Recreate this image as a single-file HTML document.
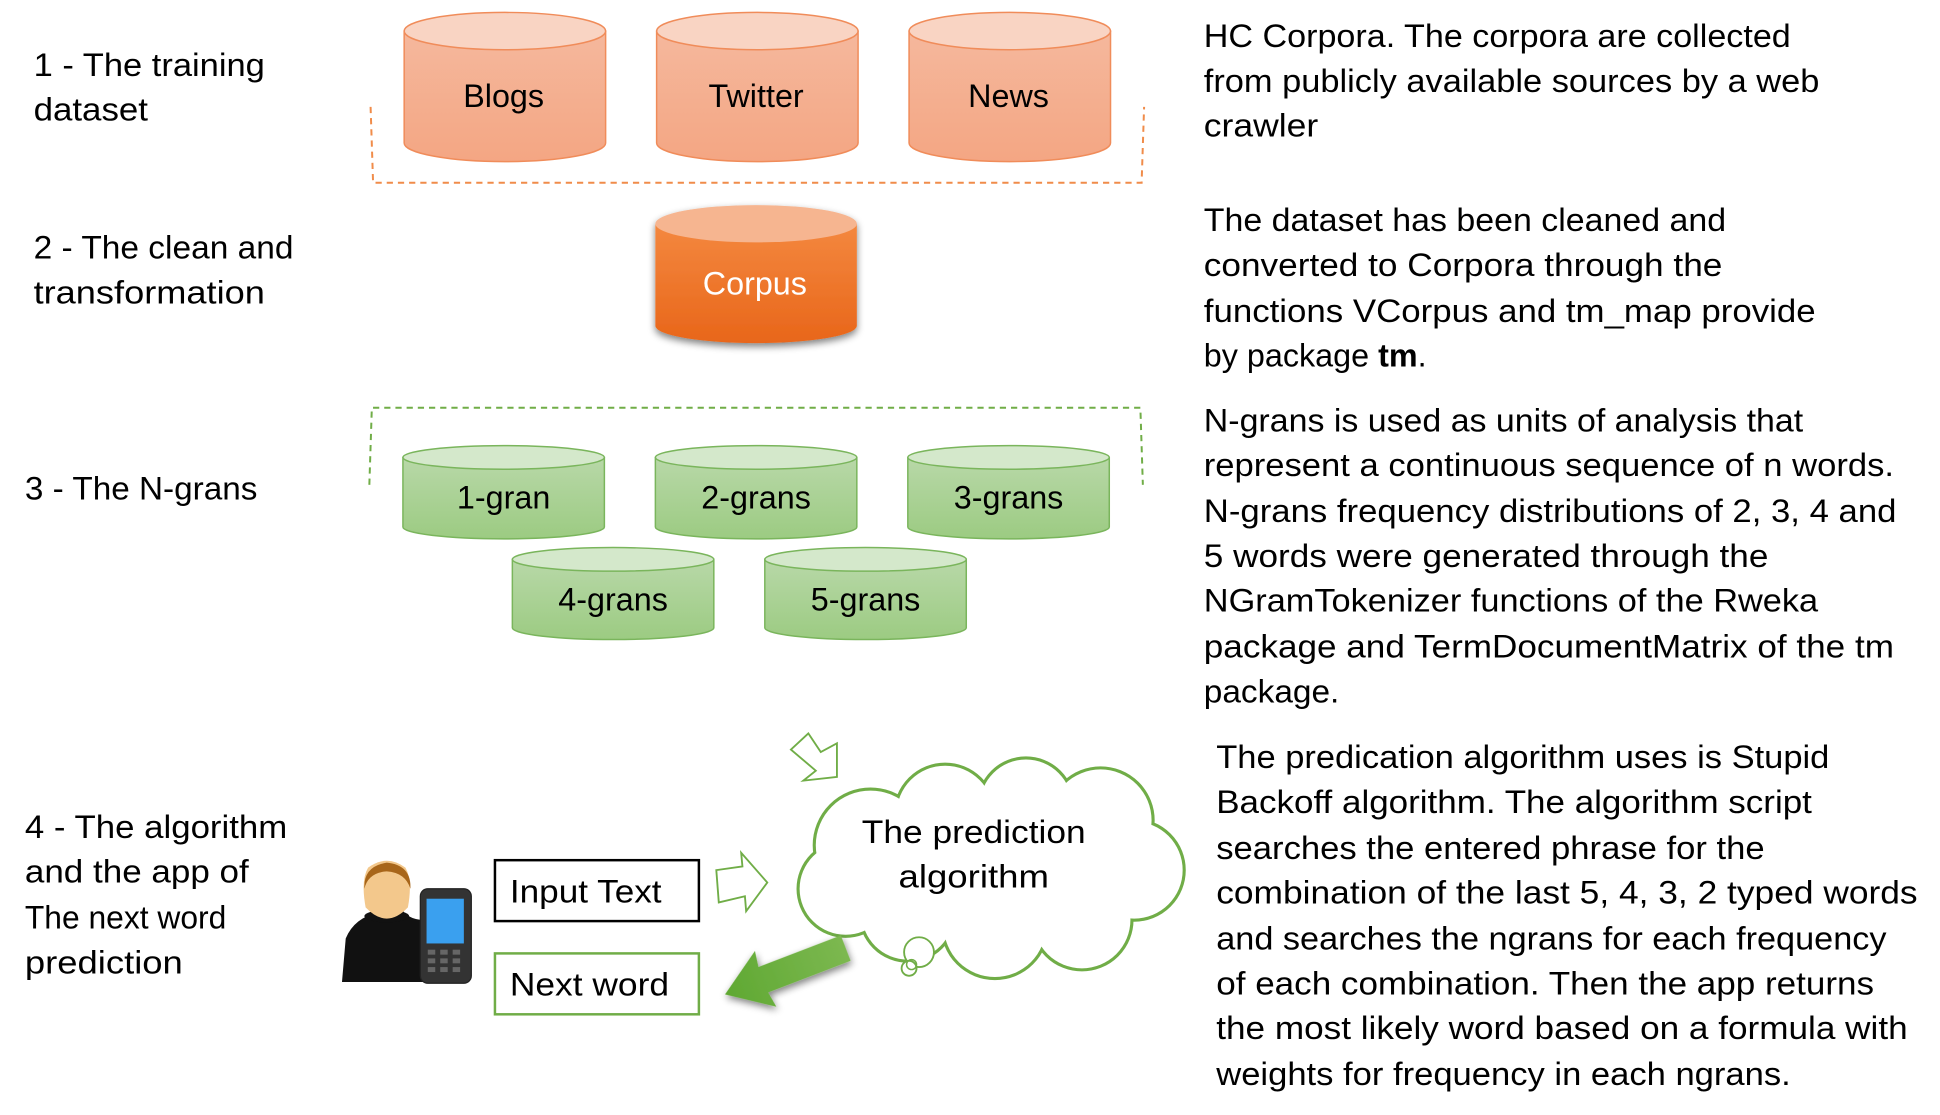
<!DOCTYPE html>
<html><head><meta charset="utf-8"><style>
html,body{margin:0;padding:0;background:#fff;}
svg{display:block;}
text{font-family:"Liberation Sans",sans-serif;fill:#000;}
</style></head><body>
<svg width="1940" height="1115" viewBox="0 0 1560 897" preserveAspectRatio="none" xmlns="http://www.w3.org/2000/svg">
<defs>
<linearGradient id="og" x1="0" y1="0" x2="0" y2="1"><stop offset="0" stop-color="#f5b89d"/><stop offset="1" stop-color="#f4a683"/></linearGradient>
<linearGradient id="cg" x1="0" y1="0" x2="0" y2="1"><stop offset="0" stop-color="#f4883f"/><stop offset="1" stop-color="#e8661a"/></linearGradient>
<linearGradient id="gg" x1="0" y1="0" x2="0" y2="1"><stop offset="0" stop-color="#b8d8a8"/><stop offset="1" stop-color="#9ccb82"/></linearGradient>
<linearGradient id="ag" x1="0" y1="0" x2="1" y2="0"><stop offset="0" stop-color="#5fa832"/><stop offset="1" stop-color="#7cb850"/></linearGradient>
<filter id="sh" x="-20%" y="-20%" width="140%" height="140%"><feGaussianBlur in="SourceAlpha" stdDeviation="3"/><feOffset dy="3"/><feComponentTransfer><feFuncA type="linear" slope="0.5"/></feComponentTransfer><feMerge><feMergeNode/><feMergeNode in="SourceGraphic"/></feMerge></filter>
</defs>

<!-- left labels -->
<g font-size="26">
<text x="27" y="61" textLength="186" lengthAdjust="spacingAndGlyphs">1 - The training</text>
<text x="27" y="97" textLength="92" lengthAdjust="spacingAndGlyphs">dataset</text>
<text x="27" y="208" textLength="209" lengthAdjust="spacingAndGlyphs">2 - The clean and</text>
<text x="27" y="244" textLength="186" lengthAdjust="spacingAndGlyphs">transformation</text>
<text x="20" y="402" textLength="187" lengthAdjust="spacingAndGlyphs">3 - The N-grans</text>
<text x="20" y="674" textLength="211" lengthAdjust="spacingAndGlyphs">4 - The algorithm</text>
<text x="20" y="710" textLength="180" lengthAdjust="spacingAndGlyphs">and the app of</text>
<text x="20" y="747" textLength="162" lengthAdjust="spacingAndGlyphs">The next word</text>
<text x="20" y="783" textLength="127" lengthAdjust="spacingAndGlyphs">prediction</text>
</g>

<!-- orange bracket -->
<path d="M298 86 L300 147 L918 147 L920 86" fill="none" stroke="#f08c4a" stroke-width="1.6" stroke-dasharray="5,4"/>
<!-- orange cylinders -->
<g stroke="#f08c5a" stroke-width="1.2">
<path d="M325 25 L325 115 A81 15 0 0 0 487 115 L487 25 Z" fill="url(#og)"/><ellipse cx="406" cy="25" rx="81" ry="15" fill="#f9d4c3"/>
<path d="M528 25 L528 115 A81 15 0 0 0 690 115 L690 25 Z" fill="url(#og)"/><ellipse cx="609" cy="25" rx="81" ry="15" fill="#f9d4c3"/>
<path d="M731 25 L731 115 A81 15 0 0 0 893 115 L893 25 Z" fill="url(#og)"/><ellipse cx="812" cy="25" rx="81" ry="15" fill="#f9d4c3"/>
</g>
<g font-size="26" text-anchor="middle">
<text x="405" y="86">Blogs</text><text x="608" y="86">Twitter</text><text x="811" y="86">News</text>
</g>
<!-- corpus -->
<g filter="url(#sh)">
<path d="M527 180 L527 262 A81 14 0 0 0 689 262 L689 180 Z" fill="url(#cg)"/>
<ellipse cx="608" cy="180" rx="81" ry="15" fill="#f6b590"/>
</g>
<text x="607" y="237" font-size="26" text-anchor="middle" style="fill:#fff">Corpus</text>

<!-- green bracket -->
<path d="M297 390 L299 328 L917 328 L919 390" fill="none" stroke="#70ad47" stroke-width="1.6" stroke-dasharray="5,4"/>
<g stroke="#7ab55c" stroke-width="1.2">
<path d="M324 368 L324 424 A81 9.5 0 0 0 486 424 L486 368 Z" fill="url(#gg)"/><ellipse cx="405" cy="368" rx="81" ry="9.5" fill="#d4e8cb"/>
<path d="M527 368 L527 424 A81 9.5 0 0 0 689 424 L689 368 Z" fill="url(#gg)"/><ellipse cx="608" cy="368" rx="81" ry="9.5" fill="#d4e8cb"/>
<path d="M730 368 L730 424 A81 9.5 0 0 0 892 424 L892 368 Z" fill="url(#gg)"/><ellipse cx="811" cy="368" rx="81" ry="9.5" fill="#d4e8cb"/>
<path d="M412 450 L412 505 A81 9.5 0 0 0 574 505 L574 450 Z" fill="url(#gg)"/><ellipse cx="493" cy="450" rx="81" ry="9.5" fill="#d4e8cb"/>
<path d="M615 450 L615 505 A81 9.5 0 0 0 777 505 L777 450 Z" fill="url(#gg)"/><ellipse cx="696" cy="450" rx="81" ry="9.5" fill="#d4e8cb"/>
</g>
<g font-size="26" text-anchor="middle">
<text x="405" y="409">1-gran</text><text x="608" y="409">2-grans</text><text x="811" y="409">3-grans</text>
<text x="493" y="491">4-grans</text><text x="696" y="491">5-grans</text>
</g>

<!-- person + phone -->
<g>
<path d="M275 790 L278 755 Q285 738 305 734 L322 730 Q328 740 340 740 L348 732 L362 736 Q372 745 372 760 L374 790 Z" fill="#111"/>
<rect x="299" y="718" width="22" height="18" fill="#f3c98e"/>
<ellipse cx="312" cy="735" rx="10" ry="4" fill="#e8b577"/>
<ellipse cx="310" cy="732" rx="11" ry="4" fill="#f3c98e"/>
<ellipse cx="311" cy="737" rx="18" ry="5" fill="#111"/>
<ellipse cx="311" cy="720" rx="0" ry="0"/>
<path d="M294 730 Q290 708 296 698 Q311 687 326 698 Q332 708 328 730 Q311 748 294 730 Z" fill="#f3c88c"/>
<path d="M293 715 Q292 697 311 694 Q331 696 330 715 Q326 702 311 701 Q296 702 293 715 Z" fill="#a8661a"/>
<rect x="338" y="715" width="41" height="76" rx="6" fill="#333" stroke="#222"/>
<rect x="343" y="723" width="30" height="36" fill="#3aa0ef"/>
<g fill="#666"><rect x="344" y="764" width="6" height="4"/><rect x="354" y="764" width="6" height="4"/><rect x="364" y="764" width="6" height="4"/><rect x="344" y="771" width="6" height="4"/><rect x="354" y="771" width="6" height="4"/><rect x="364" y="771" width="6" height="4"/><rect x="344" y="778" width="6" height="4"/><rect x="354" y="778" width="6" height="4"/><rect x="364" y="778" width="6" height="4"/></g>
</g>

<!-- boxes -->
<rect x="398" y="692" width="164" height="49" fill="#fff" stroke="#000" stroke-width="2"/>
<text x="410" y="726" font-size="26" textLength="122" lengthAdjust="spacingAndGlyphs">Input Text</text>
<rect x="398" y="767" width="164" height="49" fill="#fff" stroke="#70ad47" stroke-width="2"/>
<text x="410" y="801" font-size="26" textLength="128" lengthAdjust="spacingAndGlyphs">Next word</text>

<!-- outline arrows -->
<path d="M576 700 L597 697 L596 686 L617 710 L600 733 L599 721 L578 726 Z" fill="#fff" stroke="#70ad47" stroke-width="1.5"/>
<path d="M650 590 L660 605 L673 598 L673 625 L646 628 L656 620 L636 603 Z" fill="#fff" stroke="#70ad47" stroke-width="1.5"/>

<!-- cloud -->
<g fill="none" stroke="#70ad47" stroke-width="3">
<circle cx="700" cy="680" r="45"/><circle cx="760" cy="655" r="40"/><circle cx="825" cy="648" r="38"/><circle cx="885" cy="660" r="42"/><circle cx="912" cy="700" r="40"/><circle cx="870" cy="740" r="40"/><circle cx="800" cy="745" r="42"/><circle cx="730" cy="735" r="38"/><circle cx="680" cy="715" r="38"/>
</g>
<g fill="#fff">
<circle cx="700" cy="680" r="44"/><circle cx="760" cy="655" r="39"/><circle cx="825" cy="648" r="37"/><circle cx="885" cy="660" r="41"/><circle cx="912" cy="700" r="39"/><circle cx="870" cy="740" r="39"/><circle cx="800" cy="745" r="41"/><circle cx="730" cy="735" r="37"/><circle cx="680" cy="715" r="37"/><rect x="700" y="650" width="190" height="90"/>
</g>
<circle cx="739" cy="766" r="12" fill="#fff" stroke="#70ad47" stroke-width="1.5"/>
<circle cx="731" cy="779" r="6" fill="#fff" stroke="#70ad47" stroke-width="1.5"/>
<circle cx="733" cy="776" r="4" fill="none" stroke="#70ad47" stroke-width="1.2"/>
<text x="783" y="678" font-size="26" text-anchor="middle" textLength="180" lengthAdjust="spacingAndGlyphs">The prediction</text>
<text x="783" y="714" font-size="26" text-anchor="middle" textLength="121" lengthAdjust="spacingAndGlyphs">algorithm</text>

<!-- filled arrow -->
<g transform="translate(583,800) rotate(-21)" filter="url(#sh)">
<polygon points="0,0 35,-24 33,-11 104,-11 104,11 33,11 35,24" fill="url(#ag)"/>
</g>

<!-- right text -->
<g font-size="26">
<text x="968" y="38" textLength="472" lengthAdjust="spacingAndGlyphs">HC Corpora. The corpora are collected</text>
<text x="968" y="74" textLength="495" lengthAdjust="spacingAndGlyphs">from publicly available sources by a web</text>
<text x="968" y="110" textLength="92" lengthAdjust="spacingAndGlyphs">crawler</text>

<text x="968" y="186" textLength="420" lengthAdjust="spacingAndGlyphs">The dataset has been cleaned and</text>
<text x="968" y="222" textLength="417" lengthAdjust="spacingAndGlyphs">converted to Corpora through the</text>
<text x="968" y="259" textLength="492" lengthAdjust="spacingAndGlyphs">functions VCorpus and tm_map provide</text>
<text x="968" y="295">by package <tspan font-weight="bold">tm</tspan>.</text>

<text x="968" y="347" textLength="482" lengthAdjust="spacingAndGlyphs">N-grans is used as units of analysis that</text>
<text x="968" y="383" textLength="555" lengthAdjust="spacingAndGlyphs">represent a continuous sequence of n words.</text>
<text x="968" y="420" textLength="557" lengthAdjust="spacingAndGlyphs">N-grans frequency distributions of 2, 3, 4 and</text>
<text x="968" y="456" textLength="454" lengthAdjust="spacingAndGlyphs">5 words were generated through the</text>
<text x="968" y="492" textLength="494" lengthAdjust="spacingAndGlyphs">NGramTokenizer functions of the Rweka</text>
<text x="968" y="529" textLength="555" lengthAdjust="spacingAndGlyphs">package and TermDocumentMatrix of the tm</text>
<text x="968" y="565" textLength="109" lengthAdjust="spacingAndGlyphs">package.</text>

<text x="978" y="618" textLength="493" lengthAdjust="spacingAndGlyphs">The predication algorithm uses is Stupid</text>
<text x="978" y="654" textLength="479" lengthAdjust="spacingAndGlyphs">Backoff algorithm. The algorithm script</text>
<text x="978" y="691" textLength="441" lengthAdjust="spacingAndGlyphs">searches the entered phrase for the</text>
<text x="978" y="727" textLength="564" lengthAdjust="spacingAndGlyphs">combination of the last 5, 4, 3, 2  typed words</text>
<text x="978" y="764" textLength="539" lengthAdjust="spacingAndGlyphs">and searches the ngrans for each frequency</text>
<text x="978" y="800" textLength="529" lengthAdjust="spacingAndGlyphs">of each combination. Then the app returns</text>
<text x="978" y="836" textLength="556" lengthAdjust="spacingAndGlyphs">the most likely word based on a formula with</text>
<text x="978" y="873" textLength="462" lengthAdjust="spacingAndGlyphs">weights for frequency in each ngrans.</text>
</g>
</svg>
</body></html>
